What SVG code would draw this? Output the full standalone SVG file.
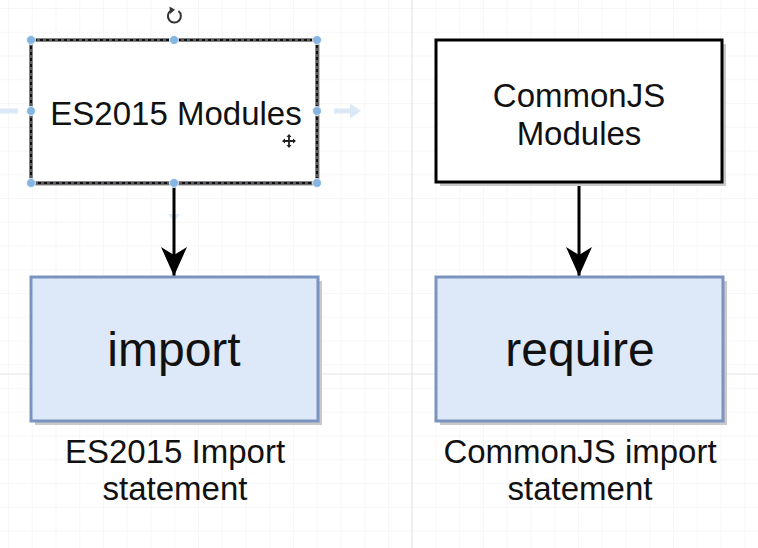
<svg xmlns="http://www.w3.org/2000/svg" width="758" height="548" viewBox="0 0 758 548">
  <defs>
    <pattern id="grid" x="8" y="8" width="23.75" height="23.75" patternUnits="userSpaceOnUse">
      <path d="M 0 0 L 0 23.75 M 0 0 L 23.75 0" fill="none" stroke="#efefef" stroke-width="1"/>
    </pattern>
    <marker id="arrow" viewBox="0 0 30 26" refX="29" refY="13" markerWidth="30" markerHeight="26" markerUnits="userSpaceOnUse" orient="auto">
      <path d="M 0 0 L 29 13 L 0 26 L 8 13 Z" fill="#000"/>
    </marker>
    <style>
      text { font-family: "Liberation Sans", Arial, Helvetica, sans-serif; fill: #111; text-anchor: middle; }
      .shadow { fill: #c9c9c9; }
      .plain { fill: #fff; stroke: #000; stroke-width: 3; }
      .blue { fill: #dde8f8; stroke: #7a93bf; stroke-width: 3; }
      .handle { fill: #85b6e3; stroke: #fff; stroke-width: 0.8; }
      .hover { fill: #dbe9f7; }
      .major { stroke: #e4e4e4; stroke-width: 1; }
    </style>
  </defs>

  <rect x="0" y="0" width="758" height="548" fill="#ffffff"/>
  <rect x="0" y="0" width="758" height="548" fill="url(#grid)"/>
  <g id="major-grid">
    <line class="major" x1="412" y1="0" x2="412" y2="548"/>
    <line class="major" x1="0" y1="374" x2="758" y2="374"/>
  </g>

  <g id="hover-hints">
    <path class="hover" d="M 0 108.5 L 18 108.5 L 18 113.5 L 0 113.5 Z"/>
    <path class="hover" d="M 334 108.5 L 350 108.5 L 350 103.5 L 361 111 L 350 118.5 L 350 113.5 L 334 113.5 Z"/>
    <path class="hover" d="M 168 214 L 180 214 L 174 222 Z"/>
  </g>

  <g id="connectors">
    <line x1="174" y1="184" x2="174" y2="276" stroke="#000" stroke-width="3" marker-end="url(#arrow)"/>
    <line x1="579" y1="184" x2="579" y2="276" stroke="#000" stroke-width="3" marker-end="url(#arrow)"/>
  </g>

  <g id="es2015-modules">
    <rect class="shadow" x="34" y="43" width="286" height="143"/>
    <rect x="31" y="40" width="286" height="143" fill="#fff" stroke="#111" stroke-width="3"/>
    <rect x="31" y="40" width="286" height="143" fill="none" stroke="#9aa6b2" stroke-width="1" stroke-dasharray="3 3"/>
    <text x="176" y="125" font-size="33">ES2015 Modules</text>
    <circle class="handle" cx="31" cy="40" r="4.5"/>
    <circle class="handle" cx="174" cy="40" r="4.5"/>
    <circle class="handle" cx="317" cy="40" r="4.5"/>
    <circle class="handle" cx="31" cy="111" r="4.5"/>
    <circle class="handle" cx="317" cy="111" r="4.5"/>
    <circle class="handle" cx="31" cy="183" r="4.5"/>
    <circle class="handle" cx="174" cy="183" r="4.5"/>
    <circle class="handle" cx="317" cy="183" r="4.5"/>
  </g>

  <g id="rotate-icon">
    <path d="M 171 10.5 A 6.5 6.5 0 1 0 178.5 11" fill="none" stroke="#333" stroke-width="2"/>
    <path d="M 169.5 6.5 L 175 9.8 L 170 14 Z" fill="#333"/>
  </g>
  <g id="move-cursor">
    <path d="M 289 135 L 289 147 M 283 141 L 295 141" stroke="#222" stroke-width="1.8"/>
    <path d="M 286.5 137 L 289 134 L 291.5 137 Z M 286.5 145 L 289 148 L 291.5 145 Z M 285 138.5 L 282 141 L 285 143.5 Z M 293 138.5 L 296 141 L 293 143.5 Z" fill="#222"/>
  </g>

  <g id="commonjs-modules">
    <rect class="shadow" x="440" y="44" width="286" height="142"/>
    <rect class="plain" x="436" y="40" width="286" height="142"/>
    <text x="579" y="107" font-size="33">CommonJS</text>
    <text x="579" y="145" font-size="33">Modules</text>
  </g>

  <g id="import">
    <rect class="shadow" x="35" y="281" width="287" height="144"/>
    <rect class="blue" x="31" y="277" width="287" height="144"/>
    <text x="174" y="366" font-size="48">import</text>
  </g>

  <g id="require">
    <rect class="shadow" x="440" y="281" width="287" height="144"/>
    <rect class="blue" x="436" y="277" width="287" height="144"/>
    <text x="580" y="366" font-size="48">require</text>
  </g>

  <g id="labels">
    <text x="175" y="463" font-size="33">ES2015 Import</text>
    <text x="175" y="500" font-size="33">statement</text>
    <text x="580" y="463" font-size="33">CommonJS import</text>
    <text x="580" y="500" font-size="33">statement</text>
  </g>
</svg>
